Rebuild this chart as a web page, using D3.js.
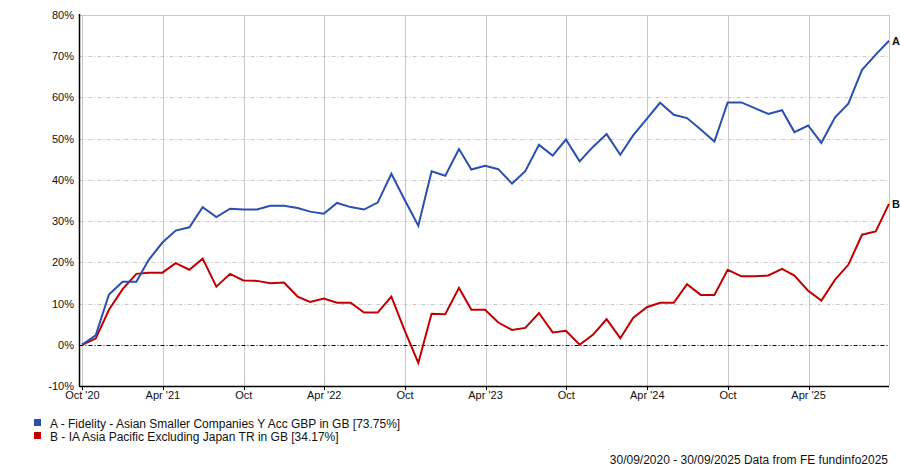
<!DOCTYPE html>
<html>
<head>
<meta charset="utf-8">
<script src="https://cdn.jsdelivr.net/npm/d3@7"></script>
<style>
  html, body { margin: 0; padding: 0; background: #fff; }
  svg { display: block; }
  text { font-family: "Liberation Sans", Arial, sans-serif; fill: #111; }
</style>
</head>
<body>
<svg id="chart" width="900" height="467"></svg>
<script>
// ---- Data ----
const startDate = "2020-09-30";
const endDate = "2025-09-30";
const seriesNames = ["A", "B"];
const legendLabels = [
  "A - Fidelity - Asian Smaller Companies Y Acc GBP in GB [73.75%]",
  "B - IA Asia Pacific Excluding Japan TR in GB [34.17%]"
];
const seriesColors = ["#2a4fb0", "#c00000"];
const seriesA = [0, 2.3, 12.2, 15.3, 15.3, 20.6, 24.8, 27.7, 28.5, 33.4, 31.0, 33.0, 32.8, 32.8, 33.7, 33.7, 33.2, 32.3, 31.8, 34.4, 33.4, 32.8, 34.5, 41.5, 35.2, 28.9, 42.1, 41.0, 47.5, 42.5, 43.4, 42.6, 39.1, 42.1, 48.5, 45.9, 49.8, 44.5, 48.0, 51.1, 46.1, 50.8, 54.8, 58.7, 55.8, 55.0, 52.2, 49.3, 58.8, 58.8, 57.4, 56.0, 56.9, 51.6, 53.2, 49.0, 55.2, 58.5, 66.7, 70.4, 73.75];
const seriesB = [0, 1.5, 8.5, 13.5, 17.2, 17.5, 17.5, 19.8, 18.2, 20.9, 14.1, 17.2, 15.6, 15.5, 14.9, 15.1, 11.7, 10.4, 11.2, 10.2, 10.2, 7.8, 7.8, 11.7, 3.5, -4.4, 7.5, 7.4, 13.8, 8.5, 8.5, 5.4, 3.6, 4.1, 7.7, 3.0, 3.4, 0.0, 2.4, 6.2, 1.6, 6.5, 9.1, 10.2, 10.2, 14.7, 12.1, 12.1, 18.2, 16.6, 16.6, 16.8, 18.4, 16.8, 13.1, 10.7, 15.8, 19.4, 26.7, 27.5, 34.17];
const xTickDates = ["2020-10-01", "2021-04-01", "2021-10-01", "2022-04-01", "2022-10-01", "2023-04-01", "2023-10-01", "2024-04-01", "2024-10-01", "2025-04-01"];
const xTickLabels = ["Oct '20", "Apr '21", "Oct", "Apr '22", "Oct", "Apr '23", "Oct", "Apr '24", "Oct", "Apr '25"];
const yTicks = [-10, 0, 10, 20, 30, 40, 50, 60, 70, 80];
const footerText = "30/09/2020 - 30/09/2025 Data from FE fundinfo2025";

// ---- Setup ----
const parse = d3.utcParse("%Y-%m-%d");
// month-end dates for each observation
const dates = seriesA.map((_, i) => d3.utcDay.offset(d3.utcMonth.offset(d3.utcMonth.floor(parse(startDate)), i + 1), -1));

const svg = d3.select("#chart");
const pL = 82, pR = 889, pT = 15, pB = 386, axisX = 79.5;

const x = d3.scaleUtc().domain([parse(startDate), parse(endDate)]).range([pL, pR]);
const y = d3.scaleLinear().domain([-10, 80]).range([pB, pT]);

// horizontal gridlines (dash-dot)
svg.append("g").selectAll("line")
  .data(yTicks.filter(v => v !== 0 && v !== -10 && v !== 80))
  .join("line")
  .attr("x1", axisX).attr("x2", pR)
  .attr("y1", d => Math.round(y(d)) + 0.5).attr("y2", d => Math.round(y(d)) + 0.5)
  .attr("stroke", "#c8c8c8").attr("stroke-width", 1)
  .attr("stroke-dasharray", "4,2,1,2");

// top border line
svg.append("line")
  .attr("x1", axisX).attr("x2", pR)
  .attr("y1", Math.round(y(80)) + 0.5).attr("y2", Math.round(y(80)) + 0.5)
  .attr("stroke", "#c8c8c8");

// vertical gridlines
const tickDates = xTickDates.map(parse);
svg.append("g").selectAll("line")
  .data(tickDates)
  .join("line")
  .attr("x1", d => Math.round(x(d)) + 0.5).attr("x2", d => Math.round(x(d)) + 0.5)
  .attr("y1", pT).attr("y2", pB)
  .attr("stroke", "#c8c8c8");

// right border
svg.append("line")
  .attr("x1", pR + 0.5).attr("x2", pR + 0.5)
  .attr("y1", pT).attr("y2", pB)
  .attr("stroke", "#c8c8c8");

// zero line
svg.append("line")
  .attr("x1", axisX).attr("x2", pR)
  .attr("y1", Math.round(y(0)) + 0.5).attr("y2", Math.round(y(0)) + 0.5)
  .attr("stroke", "#000").attr("stroke-dasharray", "4,2,1,2");

// axes lines
svg.append("line")
  .attr("x1", axisX).attr("x2", axisX)
  .attr("y1", pT - 1).attr("y2", pB + 1)
  .attr("stroke", "#000").attr("stroke-width", 1.5);
svg.append("line")
  .attr("x1", axisX).attr("x2", pR)
  .attr("y1", pB + 0.5).attr("y2", pB + 0.5)
  .attr("stroke", "#000").attr("stroke-width", 1.5);

// x ticks
svg.append("g").selectAll("line")
  .data(tickDates)
  .join("line")
  .attr("x1", d => Math.round(x(d)) + 0.5).attr("x2", d => Math.round(x(d)) + 0.5)
  .attr("y1", pB).attr("y2", pB + 4)
  .attr("stroke", "#000");

svg.append("g").selectAll("text")
  .data(tickDates)
  .join("text")
  .attr("x", d => x(d))
  .attr("y", 399)
  .attr("text-anchor", "middle")
  .attr("font-size", 11)
  .text((d, i) => xTickLabels[i]);

// y labels
svg.append("g").selectAll("text")
  .data(yTicks)
  .join("text")
  .attr("x", 74)
  .attr("y", d => y(d) + 4)
  .attr("text-anchor", "end")
  .attr("font-size", 11)
  .text(d => d + "%");

// lines
const line = d3.line().x((d, i) => x(dates[i])).y(d => y(d));
const allSeries = [seriesB, seriesA];
const colorsOrdered = [seriesColors[1], seriesColors[0]];
allSeries.forEach((s, k) => {
  svg.append("path")
    .datum(s)
    .attr("fill", "none")
    .attr("stroke", colorsOrdered[k])
    .attr("stroke-width", 2)
    .attr("stroke-linejoin", "miter")
    .attr("d", line);
});

// end labels
[seriesA, seriesB].forEach((s, k) => {
  svg.append("text")
    .attr("x", pR + 3)
    .attr("y", y(s[s.length - 1]) + 4)
    .attr("font-size", 11)
    .attr("font-weight", "bold")
    .text(seriesNames[k]);
});

// legend
legendLabels.forEach((t, k) => {
  svg.append("rect")
    .attr("x", 34).attr("y", 419 + k * 13)
    .attr("width", 7).attr("height", 7)
    .attr("fill", seriesColors[k]);
  svg.append("text")
    .attr("x", 50).attr("y", 428 + k * 13)
    .attr("font-size", 12)
    .text(t);
});

// footer
svg.append("text")
  .attr("x", 888).attr("y", 464)
  .attr("text-anchor", "end")
  .attr("font-size", 12)
  .text(footerText);
</script>
</body>
</html>
